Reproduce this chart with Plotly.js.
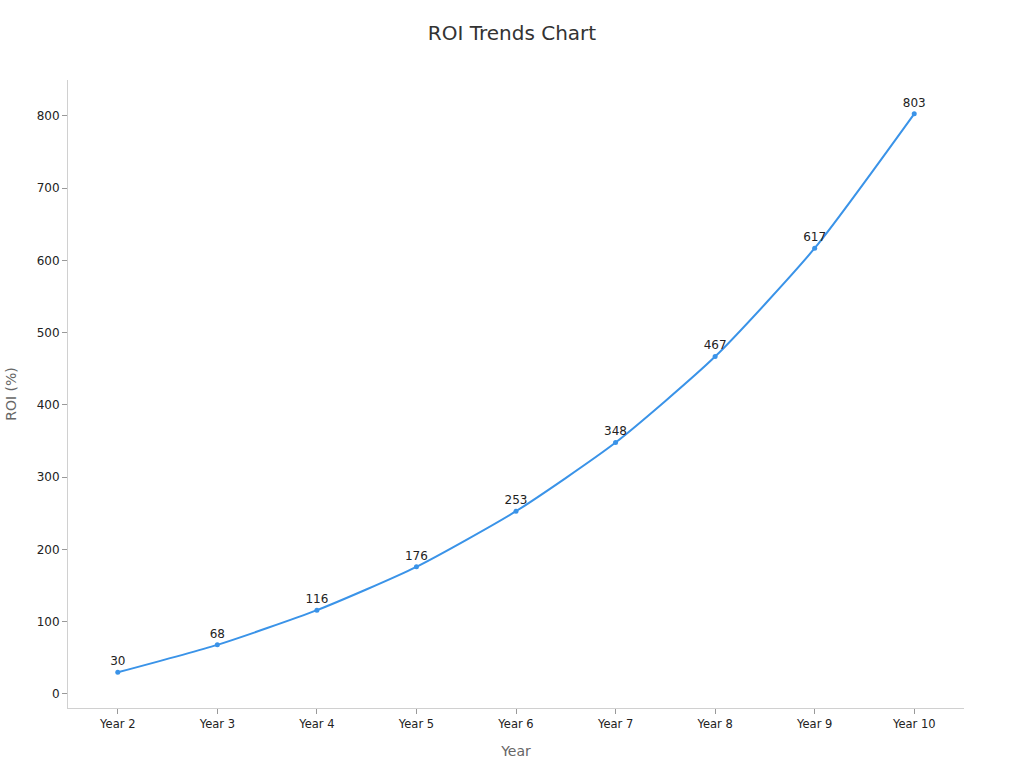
<!DOCTYPE html>
<html>
<head>
<meta charset="utf-8">
<script src="https://cdn.plot.ly/plotly-3.0.1.min.js"></script>
<style>html,body{margin:0;padding:0;background:#fff;}#chart{width:1024px;height:768px;}</style>
</head>
<body>
<div id="chart"></div>
<script>
const years = ["Year 2","Year 3","Year 4","Year 5","Year 6","Year 7","Year 8","Year 9","Year 10"];
const roi = [30, 68, 116, 176, 253, 348, 467, 617, 803];

const trace = {
  x: years,
  y: roi,
  type: 'scatter',
  mode: 'lines+markers+text',
  line: {color: '#3a93e8', width: 2, shape: 'spline', smoothing: 0.6},
  marker: {color: '#3a93e8', size: 5},
  text: roi.map(String),
  textposition: 'top center',
  textfont: {family: 'DejaVu Sans', size: 12, color: '#222'},
  cliponaxis: false,
  hoverinfo: 'x+y'
};

const layout = {
  width: 1024, height: 768,
  margin: {l: 68, r: 60, t: 80, b: 60},
  paper_bgcolor: '#fff', plot_bgcolor: '#fff',
  font: {family: 'DejaVu Sans', color: '#222'},
  showlegend: false,
  title: {text: 'ROI Trends Chart', x: 0.5, xanchor: 'center', y: 0.957, yanchor: 'middle',
          font: {family: 'DejaVu Sans', size: 20, color: '#333'}},
  xaxis: {
    title: {text: 'Year', font: {size: 14, color: '#666'}, standoff: 16},
    type: 'category', range: [-0.5, 8.5],
    showgrid: false, zeroline: false,
    showline: true, linecolor: '#d0d0d0', linewidth: 1,
    ticks: 'outside', ticklen: 5, tickcolor: '#999',
    tickfont: {size: 11.5, color: '#222'}
  },
  yaxis: {
    title: {text: 'ROI (%)', font: {size: 14, color: '#666'}, standoff: 16},
    range: [-19.4, 849.8],
    tickvals: [0,100,200,300,400,500,600,700,800],
    showgrid: false, zeroline: false,
    showline: true, linecolor: '#d0d0d0', linewidth: 1,
    ticks: 'outside', ticklen: 5, tickcolor: '#999',
    tickfont: {size: 12, color: '#222'}
  }
};

Plotly.newPlot('chart', [trace], layout, {displayModeBar: false, staticPlot: true});
</script>
</body>
</html>
